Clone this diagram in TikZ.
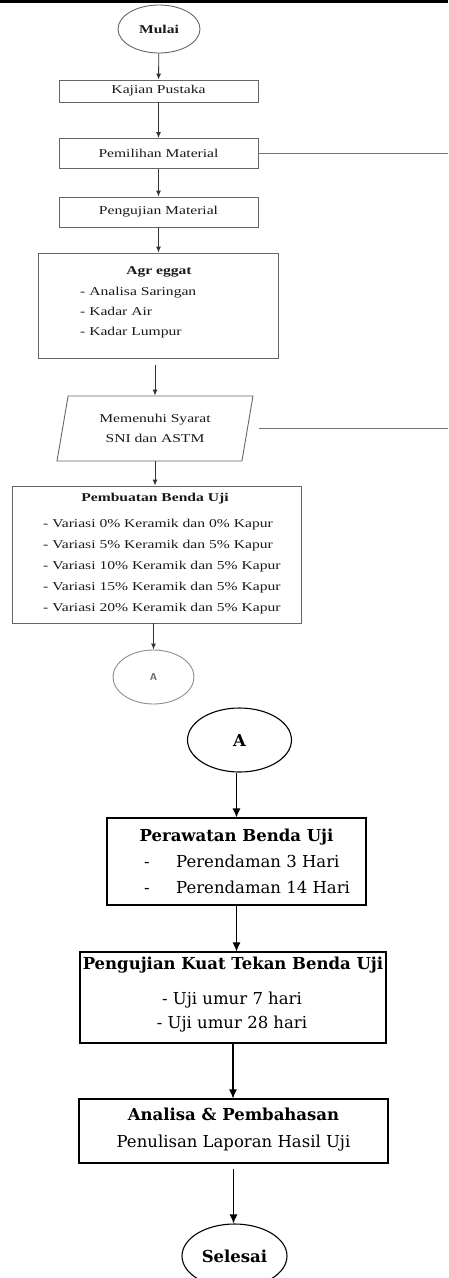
\documentclass[tikz,border=0pt]{standalone}
\usepackage{fontspec}
\setmainfont{Liberation Serif}
\newfontfamily\atasfont[FakeStretch=1.3]{Liberation Serif}
\newfontfamily\bawahfont{DejaVu Serif}
\usetikzlibrary{arrows.meta,shapes.geometric}

\tikzset{
  teksatas/.style={inner sep=0pt, text=black!90, font=\atasfont\fontsize{12}{20}\selectfont},
  kotakatas/.style={teksatas, draw=black!60, line width=0.9pt, minimum width=199},
  elipsatas/.style={teksatas, ellipse, draw=black!60, line width=0.9pt},
  panahatas/.style={draw=black!80, line width=0.9pt, -{Latex[length=6pt,width=5pt]}},
  garisatas/.style={draw=black!55, line width=0.9pt},
  teksbawah/.style={inner sep=0pt, font=\bawahfont\fontsize{16.5}{24}\selectfont},
  kotakbawah/.style={teksbawah, draw, line width=1.1pt},
  elipsbawah/.style={teksbawah, ellipse, draw, line width=1.1pt},
  panahbawah/.style={line width=1.1pt, -{Latex[length=9pt,width=8pt]}}
}

\begin{document}
\begin{tikzpicture}[x=1pt,y=1pt,yscale=-1]
\useasboundingbox (0,0) rectangle (448,1278);
\clip (0,0) rectangle (448,1278);

%top rule
\draw[line width=3pt] (0,1.5) -- (448,1.5);

%upper chart
\node[elipsatas, minimum width=82, minimum height=48] (mulai) at (159,29) {\textbf{Mulai}};
\node[kotakatas, minimum height=22] (kajian) at (158.5,91) {Kajian Pustaka};
\node[kotakatas, minimum height=30] (pemilihan) at (158.5,153.5) {Pemilihan Material};
\node[kotakatas, minimum height=30] (pengujian) at (158.5,212) {Pengujian Material};

%Agregat box
\node[kotakatas, minimum width=240, minimum height=105] (agregat) at (158,305.5) {};
\node[teksatas, anchor=base] (agrjudul) at (159,274) {\textbf{Agr eggat}};
\node[teksatas, anchor=base west] (agr1) at (80,295) {- Analisa Saringan};
\node[teksatas, anchor=base west] (agr2) at (80,315) {- Kadar Air};
\node[teksatas, anchor=base west] (agr3) at (80,335) {- Kadar Lumpur};

%syarat
\node[teksatas, trapezium, trapezium left angle=76, trapezium right angle=104, trapezium stretches=true,
  draw=black!60, line width=0.9pt, minimum width=196, minimum height=65, align=center] (syarat) at (155,428.5)
  {Memenuhi Syarat\\SNI dan ASTM};

%Pembuatan box
\node[kotakatas, minimum width=289, minimum height=137] (pembuatan) at (156.5,554.5) {};
\node[teksatas, anchor=base] (pbjudul) at (155,501) {\textbf{Pembuatan Benda Uji}};
\node[teksatas, anchor=base west] (pb1) at (43,527) {- Variasi 0\% Keramik dan 0\% Kapur};
\node[teksatas, anchor=base west] (pb2) at (43,548) {- Variasi 5\% Keramik dan 5\% Kapur};
\node[teksatas, anchor=base west] (pb3) at (43,569) {- Variasi 10\% Keramik dan 5\% Kapur};
\node[teksatas, anchor=base west] (pb4) at (43,590) {- Variasi 15\% Keramik dan 5\% Kapur};
\node[teksatas, anchor=base west] (pb5) at (43,611) {- Variasi 20\% Keramik dan 5\% Kapur};

\node[elipsatas, draw=black!45, minimum width=81, minimum height=54, font=\sffamily\bfseries, text=black!60] (kecilA) at (153.5,677) {A};

\coordinate (tepi1) at (448,155);
\coordinate (tepi2) at (448,427);

\draw[panahatas] (mulai) -- (kajian);
\draw[panahatas] (kajian) -- (pemilihan);
\draw[panahatas] (pemilihan) -- (pengujian);
\draw[panahatas] (pengujian.south) -- (pengujian.south |- agregat.north);
\draw[panahatas, shorten <=7pt] (agregat.south -| syarat.north) -- (syarat.north);
\draw[panahatas] (syarat.south) -- (syarat.south |- pembuatan.north);
\draw[panahatas] (pembuatan.south -| kecilA.north) -- (kecilA.north);
\draw[garisatas] (pemilihan.east) -- (pemilihan.east -| tepi1);
\draw[garisatas, shorten <=11pt] (syarat.east) -- (syarat.east -| tepi2);

%lower chart
\node[elipsbawah, minimum width=104, minimum height=64] (besarA) at (239.5,740) {\textbf{A}};

\node[kotakbawah, minimum width=259, minimum height=87] (perawatan) at (236.5,861.5) {};
\node[teksbawah, anchor=base] (prjudul) at (236.5,841) {\textbf{Perawatan Benda Uji}};
\node[teksbawah, anchor=base] (prstrip1) at (147,867) {-};
\node[teksbawah, anchor=base west] (pr1) at (176,867) {Perendaman 3 Hari};
\node[teksbawah, anchor=base] (prstrip2) at (147,893) {-};
\node[teksbawah, anchor=base west] (pr2) at (176,893) {Perendaman 14 Hari};

\node[kotakbawah, minimum width=306, minimum height=91] (kuattekan) at (233,997.5) {};
\node[teksbawah, anchor=base] (ktjudul) at (233,969) {\textbf{Pengujian Kuat Tekan Benda Uji}};
\node[teksbawah, anchor=base] (kt1) at (232,1004) {- Uji umur 7 hari};
\node[teksbawah, anchor=base] (kt2) at (232,1028) {- Uji umur 28 hari};

\node[kotakbawah, minimum width=309, minimum height=64] (analisa) at (233.5,1131) {};
\node[teksbawah, anchor=base] (anjudul) at (233.5,1120) {\textbf{Analisa \& Pembahasan}};
\node[teksbawah, anchor=base] (an1) at (233.5,1147) {Penulisan Laporan Hasil Uji};

\node[elipsbawah, minimum width=105, minimum height=64] (selesai) at (234.5,1256) {\textbf{Selesai}};

\draw[panahbawah] (besarA.south -| perawatan.north) -- (perawatan.north);
\draw[panahbawah] (perawatan.south) -- (perawatan.south |- kuattekan.north);
\draw[panahbawah] (kuattekan.south) -- (kuattekan.south |- analisa.north);
\draw[panahbawah, shorten <=5pt] (analisa.south) -- (analisa.south |- selesai.north);

\end{tikzpicture}
\end{document}
